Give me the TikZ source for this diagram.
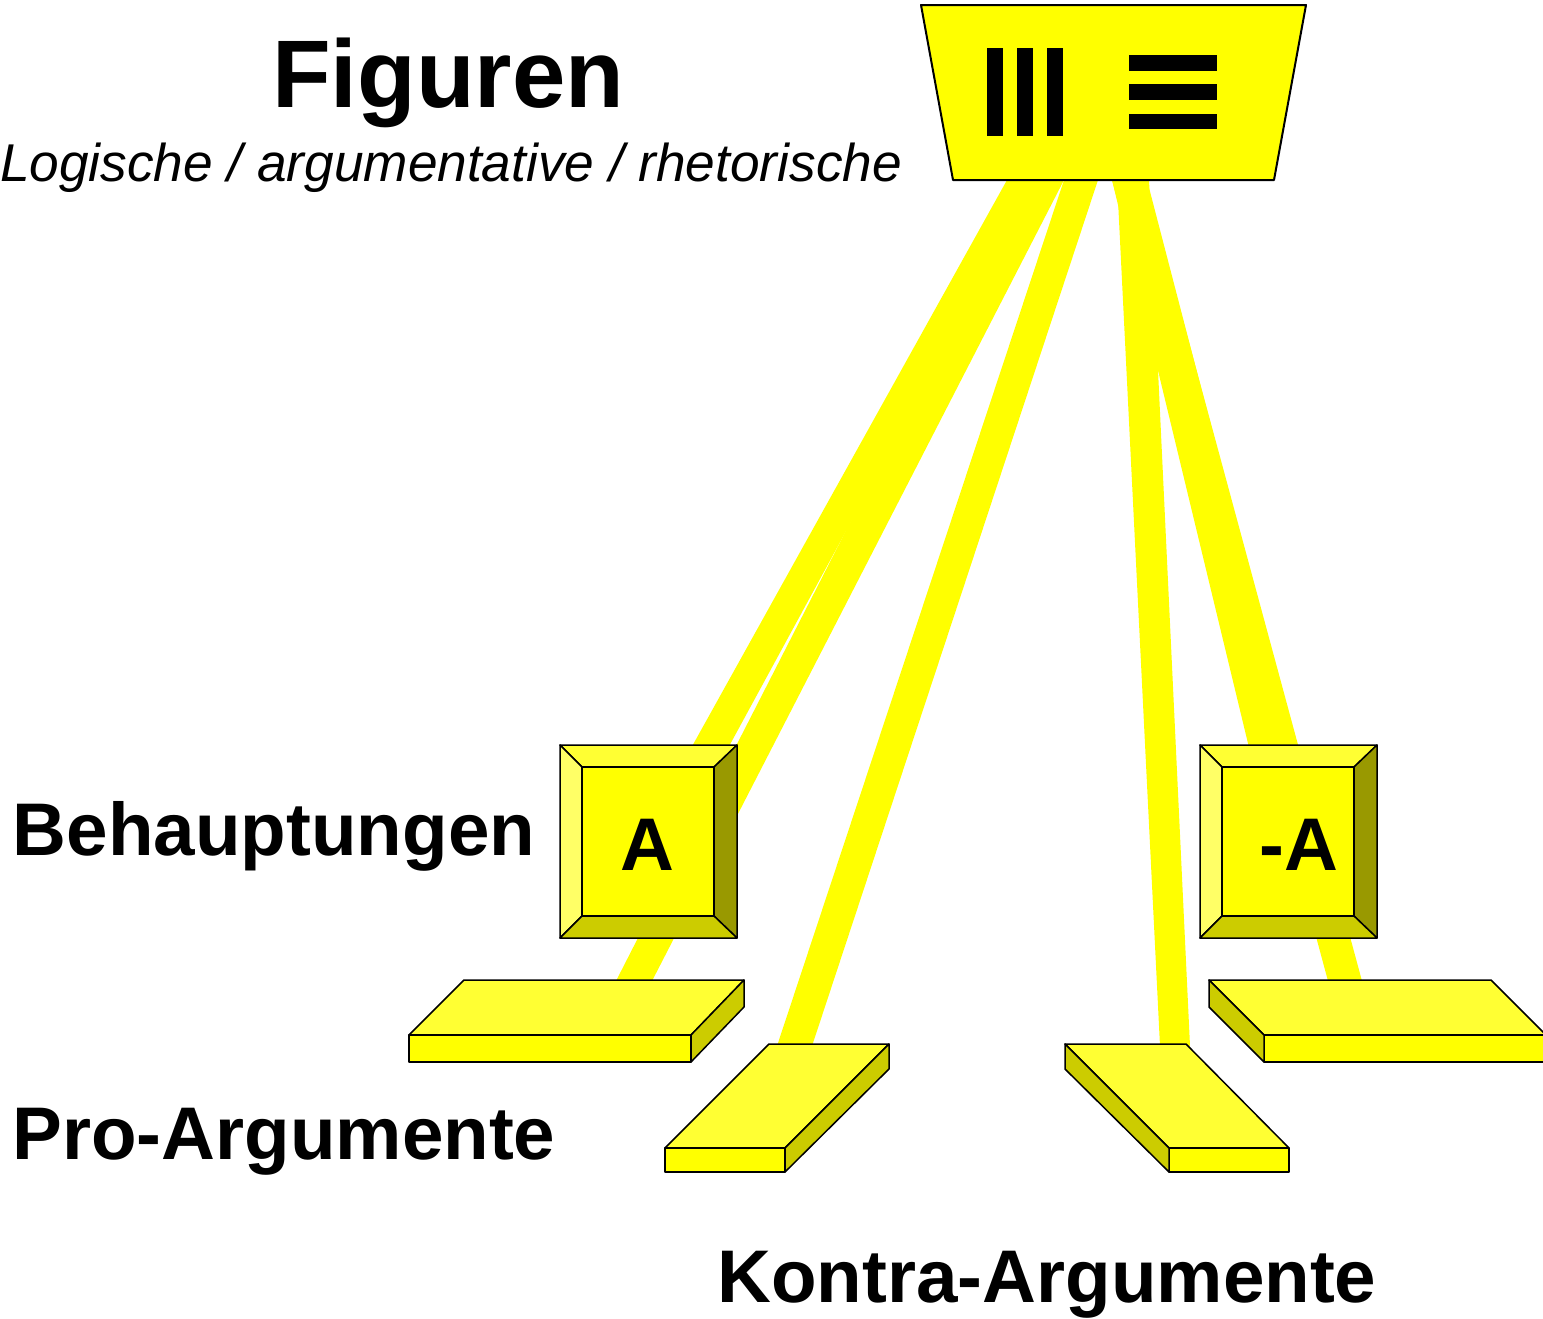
\documentclass[tikz,border=0pt]{standalone}
\usepackage{fontspec}
\setmainfont{Liberation Sans}
\definecolor{cYel}{HTML}{FFFF00}
\definecolor{cTop}{HTML}{FFFF33}
\definecolor{cLeft}{HTML}{FFFF66}
\definecolor{cDark}{HTML}{999900}
\definecolor{cSide}{HTML}{CCCC00}
\begin{document}
\begin{tikzpicture}[x=1pt,y=-1pt,
  beam/.style={fill=cYel, draw=none},
  edge/.style={draw=black, line width=1.5pt, line join=round},
  lbl/.style={inner sep=0pt, anchor=base, font=\bfseries\fontsize{74.6}{80}\selectfont},
  bar/.style={fill=black, draw=none}]
\useasboundingbox (0,0) rectangle (1543,1318);

% beams (behind everything)
\fill[beam] (1007,180) -- (1037,180) -- (727,750) -- (690,750) -- cycle;   % to A
\fill[beam] (1025,180) -- (1064,180) -- (652,981) -- (616,981) -- cycle;   % to Pro 1
\fill[beam] (1064,180) -- (1098,180) -- (812,1046) -- (777,1046) -- cycle; % to Pro 2
\fill[beam] (1117,180) -- (1149,180) -- (1190,1046) -- (1160,1046) -- cycle; % to Kontra 1
\fill[beam] (1112,180) -- (1147,180) -- (1298,760) -- (1252,760) -- cycle;  % to -A
\fill[beam] (1112,180) -- (1145,180) -- (1362,981) -- (1328,981) -- cycle;  % to Kontra 2

% top trapezoid
\draw[edge, fill=cYel, line width=2pt] (921,5) -- (1306,5) -- (1274,180) -- (953,180) -- cycle;
\fill[bar] (987,48) rectangle (1002.5,136);
\fill[bar] (1017,48) rectangle (1032.5,136);
\fill[bar] (1047,48) rectangle (1062.5,136);
\fill[bar] (1129,55) rectangle (1217,70.7);
\fill[bar] (1129,84.3) rectangle (1217,100);
\fill[bar] (1129,113.7) rectangle (1217,129.3);

% bevel boxes
\foreach \dx in {0,640}{
  \draw[edge, fill=cTop] ({560+\dx},745) -- ({737+\dx},745) -- ({714+\dx},767) -- ({582+\dx},767) -- cycle;
  \draw[edge, fill=cLeft] ({560+\dx},745) -- ({582+\dx},767) -- ({582+\dx},916) -- ({560+\dx},938) -- cycle;
  \draw[edge, fill=cDark] ({737+\dx},745) -- ({737+\dx},938) -- ({714+\dx},916) -- ({714+\dx},767) -- cycle;
  \draw[edge, fill=cSide] ({560+\dx},938) -- ({582+\dx},916) -- ({714+\dx},916) -- ({737+\dx},938) -- cycle;
  \draw[edge, fill=cYel] ({582+\dx},767) rectangle ({714+\dx},916);
}

% slab 1
\draw[edge, fill=cTop] (409,1035) -- (464,980) -- (744,980) -- (691,1035) -- cycle;
\draw[edge, fill=cYel] (409,1035) rectangle (691,1062);
\draw[edge, fill=cSide] (691,1035) -- (744,980) -- (744,1007) -- (691,1062) -- cycle;
% slab 2
\draw[edge, fill=cTop] (665,1148) -- (769,1044) -- (889,1044) -- (785,1148) -- cycle;
\draw[edge, fill=cYel] (665,1148) rectangle (785,1172);
\draw[edge, fill=cSide] (785,1148) -- (889,1044) -- (889,1069) -- (785,1172) -- cycle;
% slab 3
\draw[edge, fill=cTop] (1065,1044) -- (1186,1044) -- (1289,1148) -- (1169,1148) -- cycle;
\draw[edge, fill=cYel] (1169,1148) rectangle (1289,1172);
\draw[edge, fill=cSide] (1065,1044) -- (1169,1148) -- (1169,1172) -- (1065,1069) -- cycle;
% slab 4
\draw[edge, fill=cTop] (1209,980) -- (1491,980) -- (1546,1035) -- (1264,1035) -- cycle;
\draw[edge, fill=cYel] (1264,1035) rectangle (1546,1062);
\draw[edge, fill=cSide] (1209,980) -- (1264,1035) -- (1264,1062) -- (1209,1007) -- cycle;

% texts
\node[inner sep=0pt, anchor=base, font=\bfseries\fontsize{96}{100}\selectfont] (title) at (448,107) {Figuren};
\node[inner sep=0pt, anchor=base, font=\itshape\fontsize{53.2}{60}\selectfont] (subtitle) at (451,181) {Logische / argumentative / rhetorische};
\node[lbl] (lblA) at (647,870) {A};
\node[lbl] (lblNotA) at (1299,870) {-A};
\node[lbl] (behaupt) at (274,855) {Behauptungen};
\node[lbl] (pro) at (284,1159) {Pro-Argumente};
\node[lbl] (kontra) at (1047,1302) {Kontra-Argumente};
\end{tikzpicture}
\end{document}
